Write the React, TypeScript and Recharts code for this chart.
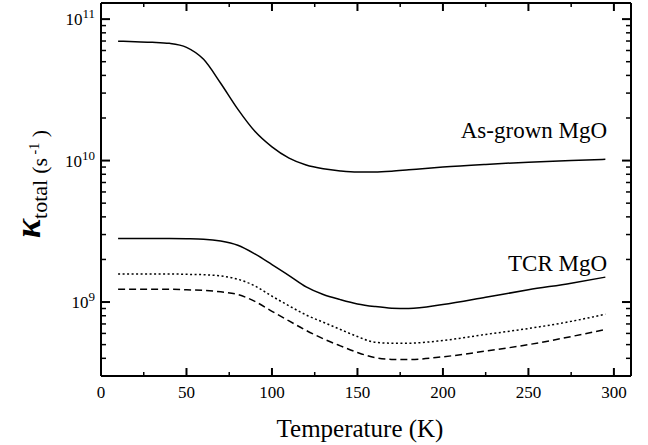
import { LineChart, Line, XAxis, YAxis, ReferenceLine, ReferenceDot } from 'recharts';

const temperature = [10, 20, 30, 40, 50, 60, 70, 80, 90, 100, 110, 120, 130, 140, 150, 160, 170, 180, 200, 225, 250, 275, 295];
const asGrown = [6.98e10, 6.92e10, 6.86e10, 6.74e10, 6.32e10, 5.2e10, 3.52e10, 2.31e10, 1.61e10, 1.25e10, 1.04e10, 9.3e9, 8.75e9, 8.45e9, 8.3e9, 8.3e9, 8.4e9, 8.6e9, 9.0e9, 9.4e9, 9.75e9, 1.0e10, 1.02e10];
const tcrSolid = [2.81e9, 2.81e9, 2.81e9, 2.81e9, 2.8e9, 2.78e9, 2.7e9, 2.52e9, 2.19e9, 1.84e9, 1.54e9, 1.28e9, 1.13e9, 1.04e9, 9.7e8, 9.3e8, 9.05e8, 9.0e8, 9.6e8, 1.08e9, 1.22e9, 1.36e9, 1.5e9];
const tcrDotted = [1.58e9, 1.58e9, 1.58e9, 1.58e9, 1.57e9, 1.56e9, 1.53e9, 1.45e9, 1.3e9, 1.1e9, 9.4e8, 8.1e8, 7.2e8, 6.4e8, 5.7e8, 5.2e8, 5.12e8, 5.12e8, 5.35e8, 5.9e8, 6.5e8, 7.3e8, 8.2e8];
const tcrDashed = [1.23e9, 1.23e9, 1.23e9, 1.23e9, 1.22e9, 1.21e9, 1.18e9, 1.13e9, 1.01e9, 8.6e8, 7.35e8, 6.3e8, 5.5e8, 4.9e8, 4.4e8, 4.05e8, 3.93e8, 3.92e8, 4.1e8, 4.5e8, 5.0e8, 5.7e8, 6.4e8];

const xTicks = [0, 25, 50, 75, 100, 125, 150, 175, 200, 225, 250, 275, 300];
const yTicks = [
  4e8, 5e8, 6e8, 7e8, 8e8, 9e8, 1e9,
  2e9, 3e9, 4e9, 5e9, 6e9, 7e9, 8e9, 9e9, 1e10,
  2e10, 3e10, 4e10, 5e10, 6e10, 7e10, 8e10, 9e10, 1e11,
];

const data = temperature.map((t, i) => ({
  t,
  asGrown: asGrown[i],
  tcr: tcrSolid[i],
  dotted: tcrDotted[i],
  dashed: tcrDashed[i],
}));

const FONT = "'Liberation Serif'";
const PLOT_W = 530;
const PLOT_H = 373;

// inward ticks, mirrored on the top edge
function XTick({ x, y, payload }: any) {
  const v = payload.value;
  const major = v % 50 === 0;
  const len = major ? 8 : 4;
  const w = major ? 2 : 1.5;
  return (
    <g>
      <line x1={x} x2={x} y1={y} y2={y - len} stroke="#000" strokeWidth={w} />
      <line x1={x} x2={x} y1={y - PLOT_H} y2={y - PLOT_H + len} stroke="#000" strokeWidth={w} />
      {major && (
        <text x={x} y={y + 22} textAnchor="middle" style={{ fontFamily: FONT, fontSize: 17 }} fill="#000">
          {v}
        </text>
      )}
    </g>
  );
}

// log ticks, labels only on decades, mirrored on the right edge
function YTick({ x, y, payload }: any) {
  const v = payload.value;
  const exp = Math.round(Math.log10(v));
  const major = Math.abs(v - Math.pow(10, exp)) < v * 1e-6;
  const len = major ? 9 : 5;
  const w = major ? 2 : 1.5;
  return (
    <g>
      <line x1={x} x2={x + len} y1={y} y2={y} stroke="#000" strokeWidth={w} />
      <line x1={x + PLOT_W} x2={x + PLOT_W - len} y1={y} y2={y} stroke="#000" strokeWidth={w} />
      {major && (
        <text x={x - 6} y={y + 6} textAnchor="end" style={{ fontFamily: FONT, fontSize: 17 }} fill="#000">
          10
          <tspan dy={-7} style={{ fontSize: 13 }}>{exp}</tspan>
        </text>
      )}
    </g>
  );
}

function XLabel({ viewBox }: any) {
  return (
    <text x={viewBox.x + viewBox.width / 2 - 6} y={437} textAnchor="middle" style={{ fontFamily: FONT, fontSize: 25 }} fill="#000">
      Temperature (K)
    </text>
  );
}

function YLabel() {
  return (
    <text transform="translate(40, 238) rotate(-90)" style={{ fontFamily: FONT }} fill="#000">
      <tspan style={{ fontSize: 36, fontWeight: 'bold', fontStyle: 'italic' }}>κ</tspan>
      <tspan style={{ fontSize: 22 }} dy={7}>total</tspan>
      <tspan style={{ fontSize: 22 }} dx={6}>(s</tspan>
      <tspan style={{ fontSize: 14 }} dy={-8}> -1</tspan>
      <tspan style={{ fontSize: 22 }} dy={8}> )</tspan>
    </text>
  );
}

function CurveLabel({ text }: { text: string }) {
  return ({ viewBox }: any) => (
    <text x={viewBox.x} y={viewBox.y} textAnchor="end" style={{ fontFamily: FONT, fontSize: 23 }} fill="#000">
      {text}
    </text>
  );
}

const asGrownLabelAt = { t: 296, k: 1.45e10 };
const tcrLabelAt = { t: 296, k: 1.66e9 };

export default function App() {
  return (
    <div style={{ position: 'absolute', left: 0, top: 0, background: '#fff' }}>
      <LineChart width={648} height={445} data={data} margin={{ top: 3, right: 17, bottom: 0, left: 0 }}>
        <XAxis
          dataKey="t"
          type="number"
          domain={[0, 310]}
          ticks={xTicks}
          interval={0}
          allowDataOverflow
          height={69}
          tickSize={0}
          tickMargin={0}
          tickLine={false}
          axisLine={{ stroke: '#000', strokeWidth: 2 }}
          tick={<XTick />}
          label={<XLabel />}
        />
        <YAxis
          type="number"
          scale="log"
          domain={[3e8, 1.3e11]}
          ticks={yTicks}
          interval={0}
          allowDataOverflow
          width={101}
          tickSize={0}
          tickMargin={0}
          tickLine={false}
          axisLine={{ stroke: '#000', strokeWidth: 2 }}
          tick={<YTick />}
          label={<YLabel />}
        />
        <ReferenceLine x={310} stroke="#000" strokeWidth={2} />
        <ReferenceLine y={1.3e11} stroke="#000" strokeWidth={2} />
        <Line dataKey="asGrown" type="monotone" stroke="#000" strokeWidth={1.5} dot={false} isAnimationActive={false} />
        <Line dataKey="tcr" type="monotone" stroke="#000" strokeWidth={1.5} dot={false} isAnimationActive={false} />
        <Line dataKey="dotted" type="monotone" stroke="#000" strokeWidth={1.5} strokeDasharray="2 2.5" dot={false} isAnimationActive={false} />
        <Line dataKey="dashed" type="monotone" stroke="#000" strokeWidth={1.5} strokeDasharray="7 4" dot={false} isAnimationActive={false} />
        <ReferenceDot x={asGrownLabelAt.t} y={asGrownLabelAt.k} r={0} stroke="none" label={CurveLabel({ text: 'As-grown MgO' })} />
        <ReferenceDot x={tcrLabelAt.t} y={tcrLabelAt.k} r={0} stroke="none" label={CurveLabel({ text: 'TCR MgO' })} />
      </LineChart>
    </div>
  );
}
